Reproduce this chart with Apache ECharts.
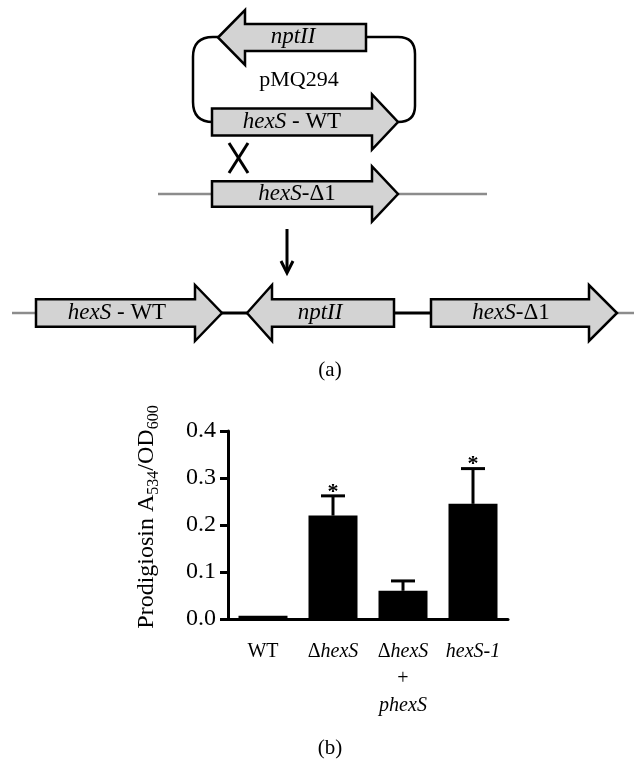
<!DOCTYPE html>
<html>
<head>
<meta charset="utf-8">
<script src="https://cdn.jsdelivr.net/npm/echarts@6/dist/echarts.min.js"></script>
<style>
html,body{margin:0;padding:0;background:#fff;}
#main{width:634px;height:760px;}
</style>
</head>
<body>
<div id="main"></div>
<script>
// ---- data ----
var categories = ['WT', 'ΔhexS', 'ΔhexS + phexS', 'hexS-1'];
var categoryLabels = ['WT', '{u|Δ}{i|hexS}', '{u|Δ}{i|hexS}\n{u|+}\n{i|phexS}', '{i|hexS-1}'];
var means = [0.007, 0.22, 0.06, 0.245];
var errors = [0, 0.042, 0.021, 0.075];
var significance = ['', '*', '', '*'];
var yTicks = [0, 0.1, 0.2, 0.3, 0.4];

var FONT = '"Liberation Serif", "Times New Roman", serif';
var chart = echarts.init(document.getElementById('main'));

function arrowR(x0, xh, xt, yc, bh, hh) {
  return [[x0, yc - bh], [xh, yc - bh], [xh, yc - hh], [xt, yc], [xh, yc + hh], [xh, yc + bh], [x0, yc + bh]];
}
function arrowL(xt, xh, x1, yc, bh, hh) {
  return [[xt, yc], [xh, yc - hh], [xh, yc - bh], [x1, yc - bh], [x1, yc + bh], [xh, yc + bh], [xh, yc + hh]];
}
var arrowStyle = { fill: '#d3d3d3', stroke: '#000', lineWidth: 2.5 };
var richDiag = {
  i: { fontFamily: FONT, fontSize: 23, fontStyle: 'italic', fill: '#000' },
  u: { fontFamily: FONT, fontSize: 23, fill: '#000' }
};
function label(x, y, txt) {
  return { type: 'text', x: x, y: y, z: 10, style: { text: txt, rich: richDiag, align: 'center', verticalAlign: 'middle', font: '23px ' + FONT, fill: '#000' } };
}
function line(x1, y1, x2, y2, color, w) {
  return { type: 'line', shape: { x1: x1, y1: y1, x2: x2, y2: y2 }, style: { stroke: color, lineWidth: w } };
}
function curve(x1, y1, cx, cy, x2, y2) {
  return { type: 'bezierCurve', shape: { x1: x1, y1: y1, cpx1: cx, cpy1: cy, x2: x2, y2: y2 }, style: { stroke: '#000', lineWidth: 2.5, fill: null } };
}

var graphics = [
  // plasmid loop
  line(218, 37, 213, 37, '#000', 2.5),
  curve(213, 37, 193, 37, 193, 57),
  line(193, 57, 193, 102, '#000', 2.5),
  curve(193, 102, 193, 122, 213, 122),
  line(366, 37, 398, 37, '#000', 2.5),
  curve(398, 37, 415, 37, 415, 54),
  line(415, 54, 415, 106, '#000', 2.5),
  curve(415, 106, 415, 122, 398, 122),
  { type: 'polygon', shape: { points: arrowL(218, 245, 366, 37.5, 13.5, 27.5) }, style: arrowStyle },
  label(293, 37, '{i|nptII}'),
  { type: 'text', x: 299, y: 80, style: { text: 'pMQ294', font: '22px ' + FONT, fill: '#000', align: 'center', verticalAlign: 'middle' } },
  { type: 'polygon', shape: { points: arrowR(212, 372, 398, 122, 13.5, 27.5) }, style: arrowStyle },
  label(292, 122, '{i|hexS}{u| - WT}'),
  // crossover X
  line(229, 143, 248, 173, '#000', 3),
  line(248, 143, 229, 173, '#000', 3),
  // chromosome
  line(158, 194, 487, 194, '#8c8c8c', 2.5),
  { type: 'polygon', shape: { points: arrowR(212, 372, 398, 194, 12.8, 27.5) }, style: arrowStyle },
  label(297, 194, '{i|hexS}{u|-Δ1}'),
  // down arrow
  line(287, 229, 287, 272, '#000', 3),
  { type: 'polyline', shape: { points: [[281, 261], [287, 273], [293, 261]] }, style: { stroke: '#000', lineWidth: 3, fill: null } },
  // result row
  line(12, 313, 36, 313, '#8c8c8c', 2.5),
  line(617, 313, 634, 313, '#8c8c8c', 2.5),
  line(222, 313, 247, 313, '#000', 3),
  line(394, 313, 431, 313, '#000', 3),
  { type: 'polygon', shape: { points: arrowR(36, 195, 222, 313, 13.7, 28) }, style: arrowStyle },
  { type: 'polygon', shape: { points: arrowL(247, 272, 394, 313, 13.7, 28) }, style: arrowStyle },
  { type: 'polygon', shape: { points: arrowR(431, 589, 617, 313, 13.7, 28) }, style: arrowStyle },
  label(117, 313, '{i|hexS}{u| - WT}'),
  label(320, 313, '{i|nptII}'),
  label(511, 313, '{i|hexS}{u|-Δ1}'),
  // panel labels
  { type: 'text', x: 330, y: 370, style: { text: '(a)', font: '21px ' + FONT, fill: '#000', align: 'center', verticalAlign: 'middle' } },
  { type: 'text', x: 330, y: 748, style: { text: '(b)', font: '21px ' + FONT, fill: '#000', align: 'center', verticalAlign: 'middle' } }
];

var option = {
  animation: false,
  backgroundColor: '#fff',
  grid: { left: 228, top: 431, width: 280, height: 188, containLabel: false },
  xAxis: {
    type: 'category',
    data: categories,
    axisLine: { lineStyle: { color: '#000', width: 3 } },
    axisTick: { alignWithLabel: true, length: 9, lineStyle: { color: '#000', width: 3 } },
    axisLabel: {
      margin: 19,
      interval: 0,
      formatter: function (v, i) { return categoryLabels[i]; },
      color: '#000',
      fontFamily: FONT,
      fontSize: 20,
      lineHeight: 27,
      rich: {
        i: { fontFamily: FONT, fontSize: 20, fontStyle: 'italic', color: '#000', lineHeight: 27 },
        u: { fontFamily: FONT, fontSize: 20, color: '#000', lineHeight: 27 }
      }
    }
  },
  yAxis: {
    type: 'value',
    min: 0,
    max: 0.4,
    interval: 0.1,
    axisLine: { show: true, lineStyle: { color: '#000', width: 3 } },
    axisTick: { show: true, length: 8, lineStyle: { color: '#000', width: 3 } },
    splitLine: { show: false },
    axisLabel: {
      margin: 12,
      color: '#000',
      fontFamily: FONT,
      fontSize: 24,
      formatter: function (v) { return v.toFixed(1); }
    },
    name: '{n|Prodigiosin A}{s|534}{n|/OD}{s|600}',
    nameLocation: 'middle',
    nameGap: 66,
    nameTextStyle: {
      padding: [0, 0, 0, 16],
      rich: {
        n: { fontFamily: FONT, fontSize: 24, color: '#000', lineHeight: 30, verticalAlign: 'middle' },
        s: { fontFamily: FONT, fontSize: 16, color: '#000', lineHeight: 30, verticalAlign: 'bottom', padding: [8, 0, 0, 0] }
      }
    }
  },
  series: [
    {
      type: 'bar',
      data: means,
      barWidth: 49,
      itemStyle: { color: '#000' },
      z: 2
    },
    {
      type: 'custom',
      z: 3,
      data: categories.map(function (c, i) { return [i, means[i], errors[i]]; }),
      renderItem: function (params, api) {
        var i = api.value(0);
        var m = api.value(1);
        var e = api.value(2);
        if (!e) return { type: 'group', children: [] };
        var base = api.coord([i, m]);
        var top = api.coord([i, m + e]);
        var children = [
          { type: 'line', shape: { x1: base[0], y1: base[1], x2: top[0], y2: top[1] }, style: { stroke: '#000', lineWidth: 3 } },
          { type: 'line', shape: { x1: top[0] - 12, y1: top[1], x2: top[0] + 12, y2: top[1] }, style: { stroke: '#000', lineWidth: 3 } }
        ];
        if (significance[i]) {
          children.push({ type: 'text', x: top[0], y: top[1] - 4, style: { text: significance[i], font: 'bold 22px ' + FONT, fill: '#000', align: 'center', verticalAlign: 'middle' } });
        }
        return { type: 'group', children: children };
      }
    }
  ],
  graphic: graphics
};
chart.setOption(option);
</script>
</body>
</html>
